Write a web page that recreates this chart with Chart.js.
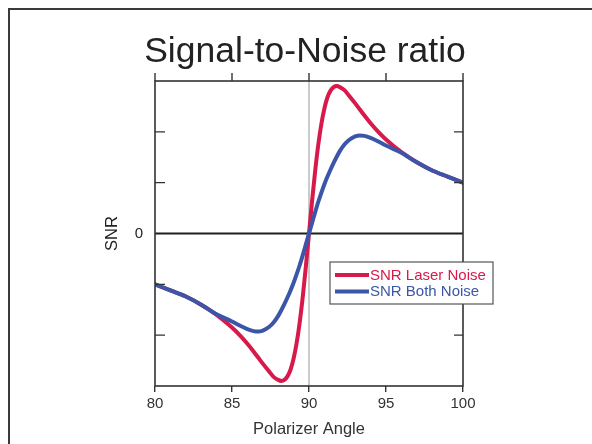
<!DOCTYPE html>
<html>
<head>
<meta charset="utf-8">
<script src="https://cdn.jsdelivr.net/npm/chart.js@4.4.0/dist/chart.umd.min.js"></script>
<style>
  html, body { margin:0; padding:0; background:#fff; }
  body { width:592px; height:444px; position:relative; overflow:hidden; }
  #slide { position:absolute; left:8px; top:8px; right:-4px; bottom:-4px; border-top:2px solid #3a3a3a; border-left:2px solid #3a3a3a; }
  #wrap { position:absolute; left:18px; top:0; width:574px; height:444px; }
</style>
</head>
<body>
<div id="slide"></div>
<div id="wrap"><canvas id="c" width="574" height="444"></canvas></div>
<script>
// ---- data ----
const angles = [80,81,82,83,84,85,85.5,86,86.4,86.7,87,87.4,87.7,88,88.2,88.4,88.6,88.8,89,89.2,89.4,89.6,89.8,
                90,90.2,90.4,90.6,90.8,91,91.2,91.4,91.6,91.8,92,92.3,92.6,93,93.3,93.6,94,94.5,95,96,97,98,99,100];
const snrLaser = [-1.0,-1.12,-1.24,-1.40,-1.60,-1.85,-2.0,-2.17,-2.32,-2.44,-2.56,-2.71,-2.82,-2.88,-2.90,-2.88,-2.81,-2.68,-2.46,-2.15,-1.74,-1.23,-0.64,
                  0,0.64,1.23,1.74,2.15,2.46,2.68,2.81,2.88,2.90,2.88,2.82,2.71,2.56,2.44,2.32,2.17,2.0,1.85,1.60,1.40,1.24,1.12,1.0];
const snrBoth  = [-1.0,-1.12,-1.24,-1.40,-1.59,-1.73,-1.81,-1.88,-1.92,-1.93,-1.91,-1.84,-1.75,-1.62,-1.51,-1.39,-1.26,-1.12,-0.97,-0.80,-0.62,-0.42,-0.21,
                  0,0.21,0.42,0.62,0.80,0.97,1.12,1.26,1.39,1.51,1.62,1.75,1.84,1.91,1.93,1.92,1.88,1.81,1.73,1.59,1.40,1.24,1.12,1.0];
const seriesNames = ['SNR Laser Noise','SNR Both Noise'];
const xTicks = [80,85,90,95,100];
const yTickMarks = [-2,-1,1,2];
const yLabelled = [0];
const refAngle = 90;
const titleText = 'Signal-to-Noise ratio';
const xTitle = 'Polarizer Angle';
const yTitle = 'SNR';

const RED = '#d7194b', BLUE = '#3b56a8';
const FONT = '"Liberation Sans", Arial, Helvetica, sans-serif';

const framePlugin = {
  id: 'frame',
  beforeDatasetsDraw(chart) {
    const {ctx, chartArea: a, scales: {x, y}} = chart;
    ctx.save();
    const xr = x.getPixelForValue(refAngle);
    ctx.strokeStyle = '#a8a8a8'; ctx.lineWidth = 1.2;
    ctx.beginPath(); ctx.moveTo(xr, a.top); ctx.lineTo(xr, a.bottom); ctx.stroke();
    const y0 = y.getPixelForValue(0);
    ctx.strokeStyle = '#1e1e1e'; ctx.lineWidth = 2;
    ctx.beginPath(); ctx.moveTo(a.left, y0); ctx.lineTo(a.right, y0); ctx.stroke();
    ctx.restore();
  },
  afterDatasetsDraw(chart) {
    const {ctx, chartArea: a, scales: {x, y}} = chart;
    ctx.save();
    ctx.strokeStyle = '#333'; ctx.lineWidth = 1.6;
    ctx.strokeRect(a.left, a.top, a.right - a.left, a.bottom - a.top);
    ctx.lineWidth = 1.4;
    ctx.beginPath();
    xTicks.forEach(v => { const px = x.getPixelForValue(v); ctx.moveTo(px, a.top); ctx.lineTo(px, a.top - 8); });
    yTickMarks.forEach(v => {
      const py = y.getPixelForValue(v);
      ctx.moveTo(a.left, py); ctx.lineTo(a.left + 10, py);
      ctx.moveTo(a.right, py); ctx.lineTo(a.right - 9, py);
    });
    ctx.stroke();
    ctx.restore();
  },
  afterDraw(chart) {
    const {ctx, chartArea: a} = chart;
    const lx = a.left + 175, ly = a.top + 181, lw = 163, lh = 42;
    ctx.save();
    ctx.fillStyle = '#fff'; ctx.fillRect(lx, ly, lw, lh);
    ctx.strokeStyle = '#555'; ctx.lineWidth = 1.2; ctx.strokeRect(lx, ly, lw, lh);
    ctx.font = '15px ' + FONT; ctx.textBaseline = 'middle'; ctx.textAlign = 'left';
    chart.data.datasets.forEach((ds, i) => {
      const yy = ly + 13 + i * 16.5;
      ctx.strokeStyle = ds.borderColor; ctx.lineWidth = 4;
      ctx.beginPath(); ctx.moveTo(lx + 5, yy); ctx.lineTo(lx + 39, yy); ctx.stroke();
      ctx.fillStyle = ds.borderColor;
      ctx.fillText(ds.label, lx + 40, yy + 0.5);
    });
    ctx.restore();
  }
};

new Chart(document.getElementById('c'), {
  type: 'line',
  data: {
    datasets: [
      { label: seriesNames[0], data: angles.map((a, i) => ({x: a, y: snrLaser[i]})), borderColor: RED, order: 2 },
      { label: seriesNames[1], data: angles.map((a, i) => ({x: a, y: snrBoth[i]})), borderColor: BLUE, order: 1 }
    ]
  },
  options: {
    responsive: false,
    animation: false,
    events: [],
    layout: { padding: { top: 31, right: 0, left: 0, bottom: 0 } },
    elements: {
      point: { radius: 0 },
      line: { borderWidth: 4, cubicInterpolationMode: 'monotone', fill: false, borderCapStyle: 'round', borderJoinStyle: 'round' }
    },
    plugins: {
      legend: { display: false },
      tooltip: { enabled: false },
      title: { display: true, text: titleText, color: '#222', font: { family: FONT, size: 35.5, weight: 'normal', lineHeight: 1.2 }, padding: { top: 0, bottom: 7.4 } }
    },
    scales: {
      x: {
        type: 'linear', min: 80, max: 100,
        afterFit(s) { s.height = 58; },
        afterBuildTicks(s) { s.ticks = xTicks.map(v => ({value: v})); },
        ticks: { color: '#333', font: { family: FONT, size: 15 }, padding: 3 },
        grid: { drawOnChartArea: false, drawTicks: true, tickLength: 6, color: '#333', lineWidth: 1.4 },
        border: { display: false },
        title: { display: true, text: xTitle, color: '#333', font: { family: FONT, size: 16.5 }, padding: { top: 0, bottom: 5 } }
      },
      y: {
        type: 'linear', min: -3, max: 3,
        afterFit(s) { s.width = 137; },
        afterBuildTicks(s) { s.ticks = yLabelled.map(v => ({value: v})); },
        ticks: { color: '#222', font: { family: FONT, size: 15 }, padding: 12 },
        grid: { display: false, drawTicks: false },
        border: { display: false },
        title: { display: true, text: yTitle, color: '#222', font: { family: FONT, size: 16.5 }, padding: { top: 85, bottom: 0 } }
      },
      yRight: {
        type: 'linear', position: 'right', min: -3, max: 3,
        afterFit(s) { s.width = 129; },
        ticks: { display: false },
        grid: { display: false, drawTicks: false },
        border: { display: false }
      }
    }
  },
  plugins: [framePlugin]
});
</script>
</body>
</html>
